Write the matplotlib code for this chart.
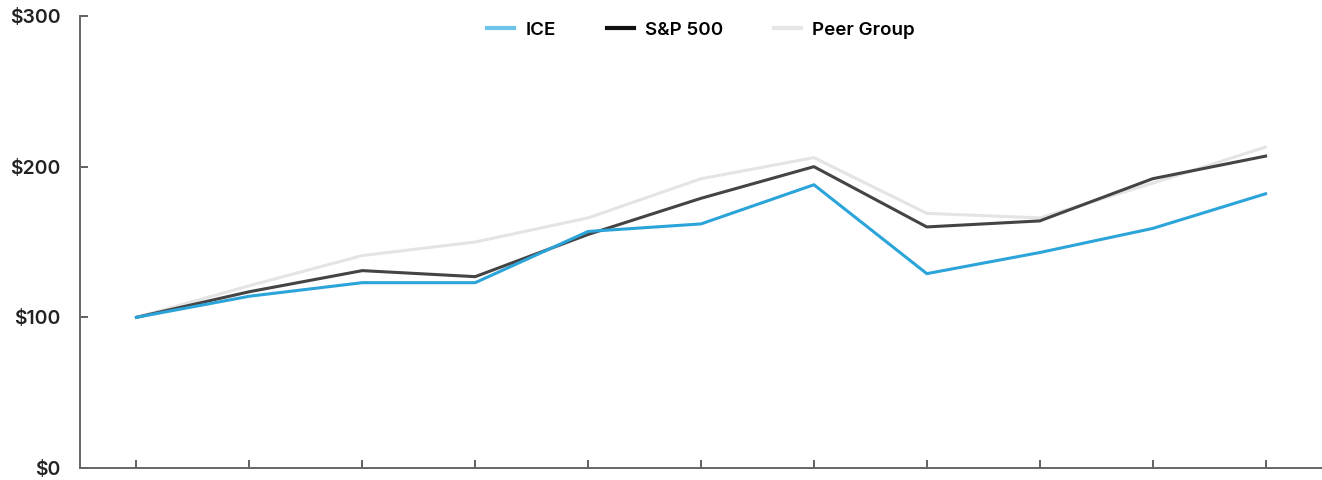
import numpy as np
import matplotlib.pyplot as plt
from matplotlib.lines import Line2D

plt.rcParams['font.family'] = ['Inter', 'DejaVu Sans']

# indexed total return, 11 points (no x labels in the source)
periods = list(range(11))
ice = [100, 114, 123, 123, 157, 162, 188, 129, 143, 159, 182]
sp500 = [100, 117, 131, 127, 155, 179, 200, 160, 164, 192, 207]
peer = [100, 121, 141, 150, 166, 192, 206, 169, 166, 189, 213]
y_ticks = [0, 100, 200, 300]
y_labels = ['$0', '$100', '$200', '$300']

c_ice = '#2ba4da'
c_sp = '#444444'
c_peer = '#e4e4e4'

fig = plt.figure(figsize=(13.22, 4.8), dpi=100)
ax = fig.add_axes([80 / 1322, 12 / 480, 1242 / 1322, 452 / 480])

ax.plot(periods, peer, color=c_peer, lw=2.2, solid_capstyle='round', zorder=2)
ax.plot(periods, sp500, color=c_sp, lw=2.2, zorder=3)
ax.plot(periods, ice, color=c_ice, lw=2.2, zorder=4)

ax.set_xlim(-0.5, 10.5)
ax.set_ylim(0, 300)
ax.set_xticks(periods)
ax.set_xticklabels([])
ax.set_yticks(y_ticks)
ax.set_yticklabels(y_labels, fontsize=14, fontweight='semibold', color='#222222')

for side in ['top', 'right']:
    ax.spines[side].set_visible(False)
for side in ['left', 'bottom']:
    ax.spines[side].set_color('#666666')
    ax.spines[side].set_linewidth(1.4)
ax.tick_params(axis='both', direction='in', length=6, width=1.3, color='#555555')
ax.tick_params(axis='y', pad=14)

handles = [Line2D([], [], color='#6cc4e8', lw=3),
           Line2D([], [], color='#111111', lw=3),
           Line2D([], [], color='#e6e6e6', lw=3)]
ax.legend(handles, ['ICE', 'S&P 500', 'Peer Group'], loc='upper center',
          bbox_to_anchor=(0.5, 1.025), ncol=3, frameon=False, handlelength=1.45,
          handletextpad=0.6, columnspacing=2.7,
          prop={'size': 13.5, 'weight': 'semibold'})

fig.savefig('out.png', dpi=100)
